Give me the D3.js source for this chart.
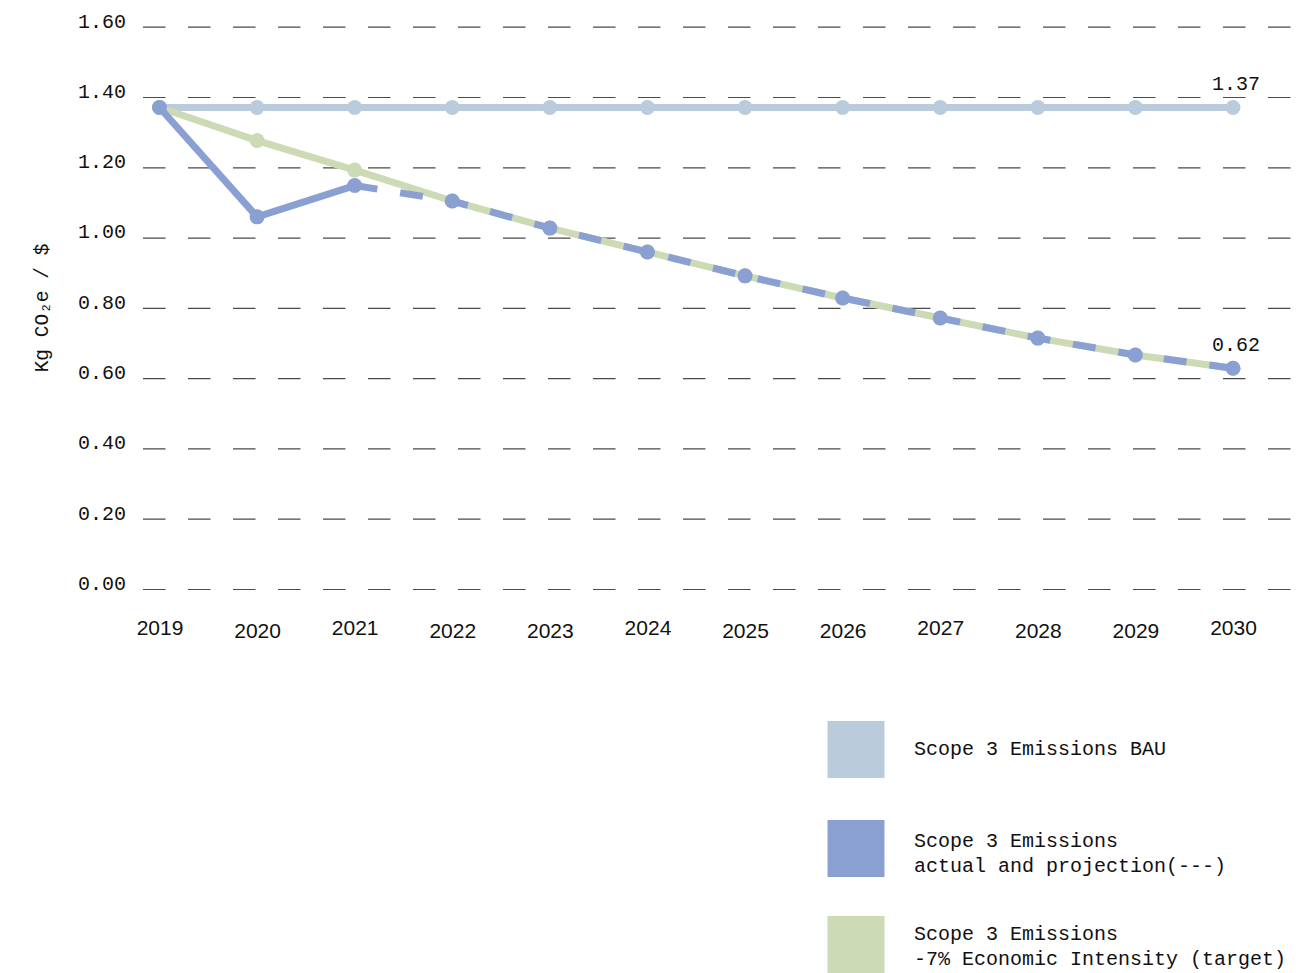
<!DOCTYPE html>
<html>
<head>
<meta charset="utf-8">
<script src="https://cdn.jsdelivr.net/npm/d3@7"></script>
<style>
  html, body { margin: 0; padding: 0; background: #fff; }
  svg { display: block; }
  .mono { font-family: "Liberation Mono", "DejaVu Sans Mono", monospace; }
</style>
</head>
<body>
<svg id="chart" width="1309" height="973"></svg>
<script>
// ---- data ----
const years = ["2019","2020","2021","2022","2023","2024","2025","2026","2027","2028","2029","2030"];
const bauValues = [1.37,1.37,1.37,1.37,1.37,1.37,1.37,1.37,1.37,1.37,1.37,1.37];
const targetValues = [1.37,1.276,1.192,1.104,1.027,0.959,0.891,0.828,0.771,0.714,0.666,0.628];
const actualYears = ["2019","2020","2021"];
const actualValues = [1.37,1.059,1.148];
const projectionYears = ["2021","2022","2023","2024","2025","2026","2027","2028","2029","2030"];
const projectionValues = [1.148,1.104,1.027,0.959,0.891,0.828,0.771,0.714,0.666,0.628];
const yTickValues = [0,0.2,0.4,0.6,0.8,1.0,1.2,1.4,1.6];
const endLabels = [{ year: "2030", value: 1.37, text: "1.37" }, { year: "2030", value: 0.628, text: "0.62" }];
const legendItems = [
  { key: "bau", lines: ["Scope 3 Emissions BAU"] },
  { key: "actual", lines: ["Scope 3 Emissions", "actual and projection(---)"] },
  { key: "target", lines: ["Scope 3 Emissions", "-7% Economic Intensity (target)"] }
];
const yAxisTitle = "Kg CO\u2082e / $";

// ---- styles ----
const colors = { bau: "#bacbdc", actual: "#8aa0d2", target: "#ccdab5" };

const svg = d3.select("#chart");

const x = d3.scalePoint().domain(years).range([159.5, 1233]);
const y = d3.scaleLinear().domain([0, 1.6]).range([589, 26.7]);

// y axis with dashed gridlines
const gridLeft = 143, gridRight = 1300;
const yAxis = d3.axisLeft(y)
  .tickValues(yTickValues)
  .tickFormat(d3.format(".2f"))
  .tickSizeInner(-(gridRight - gridLeft))
  .tickSizeOuter(0)
  .tickPadding(17);

const gy = svg.append("g").attr("transform", `translate(${gridLeft},0)`).call(yAxis);
gy.select(".domain").remove();
gy.selectAll(".tick line")
  .attr("stroke", "#4a4a4a")
  .attr("stroke-width", 1.2)
  .attr("stroke-dasharray", "22.5 22.5");
gy.selectAll(".tick text")
  .attr("class", "mono")
  .attr("font-size", 20)
  .attr("fill", "#111")
  .attr("dy", "0.02em");

// x axis labels
const raised = new Set(["2019","2021","2024","2027","2030"]);
const xAxis = d3.axisBottom(x).tickSize(0).tickPadding(0);
const gx = svg.append("g").attr("transform", "translate(0,600)").call(xAxis);
gx.select(".domain").remove();
gx.selectAll(".tick text")
  .attr("font-family", "'Liberation Sans', Arial, sans-serif")
  .attr("font-size", 21)
  .attr("fill", "#111")
  .attr("dy", 0)
  .attr("y", d => raised.has(d) ? 35 : 38);

// y axis title
svg.append("text")
  .attr("class", "mono")
  .attr("transform", "translate(48,308) rotate(-90)")
  .attr("text-anchor", "middle")
  .attr("font-size", 19.5)
  .attr("fill", "#111")
  .text(yAxisTitle);

const line = d3.line().x(d => x(d.year)).y(d => y(d.value));
const zip = (ys, vs) => ys.map((yr, i) => ({ year: yr, value: vs[i] }));

const bauData = zip(years, bauValues);
const targetData = zip(years, targetValues);
const actualData = zip(actualYears, actualValues);
const projData = zip(projectionYears, projectionValues);

const lw = 7, r = 7.5;

// BAU
svg.append("path").datum(bauData)
  .attr("d", line).attr("fill", "none")
  .attr("stroke", colors.bau).attr("stroke-width", lw).attr("stroke-linejoin", "round");
svg.append("g").selectAll("circle").data(bauData).join("circle")
  .attr("cx", d => x(d.year)).attr("cy", d => y(d.value)).attr("r", r)
  .attr("fill", colors.bau);

// target
svg.append("path").datum(targetData)
  .attr("d", line).attr("fill", "none")
  .attr("stroke", colors.target).attr("stroke-width", lw).attr("stroke-linejoin", "round");
svg.append("g").selectAll("circle").data(targetData).join("circle")
  .attr("cx", d => x(d.year)).attr("cy", d => y(d.value)).attr("r", r)
  .attr("fill", colors.target);

// actual
svg.append("path").datum(actualData)
  .attr("d", line).attr("fill", "none")
  .attr("stroke", colors.actual).attr("stroke-width", lw).attr("stroke-linejoin", "round");
// projection dashed
svg.append("path").datum(projData)
  .attr("d", line).attr("fill", "none")
  .attr("stroke", colors.actual).attr("stroke-width", lw)
  .attr("stroke-dasharray", "23 23");
svg.append("g").selectAll("circle").data(actualData.concat(projData.slice(1))).join("circle")
  .attr("cx", d => x(d.year)).attr("cy", d => y(d.value)).attr("r", r)
  .attr("fill", colors.actual);

// end labels
svg.append("g").selectAll("text").data(endLabels).join("text")
  .attr("class", "mono")
  .attr("x", d => x(d.year) + 3)
  .attr("y", d => y(d.value) - 17.5)
  .attr("text-anchor", "middle")
  .attr("font-size", 20)
  .attr("fill", "#111")
  .text(d => d.text);

// legend
const legendTops = [721, 820, 916];
const legendBaselines = [754.5, 847, 940];
const lg = svg.append("g");
legendItems.forEach((item, i) => {
  const top = legendTops[i];
  lg.append("rect")
    .attr("x", 827.5).attr("y", top).attr("width", 57).attr("height", 57)
    .attr("fill", colors[item.key]);
  const t = lg.append("text")
    .attr("class", "mono")
    .attr("font-size", 20)
    .attr("fill", "#111");
  item.lines.forEach((ln, j) => {
    t.append("tspan")
      .attr("x", 914)
      .attr("y", legendBaselines[i] + j * 25)
      .attr("xml:space", "preserve")
      .text(ln);
  });
});
</script>
</body>
</html>
